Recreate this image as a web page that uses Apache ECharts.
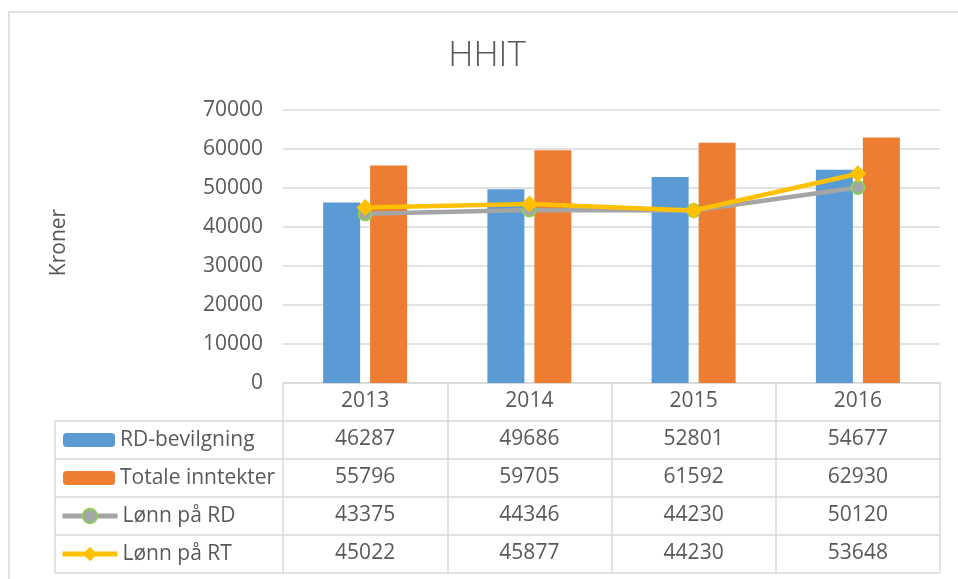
<!DOCTYPE html>
<html><head><meta charset="utf-8">
<script src="https://cdn.jsdelivr.net/npm/echarts@6/dist/echarts.min.js"></script>
<style>html,body{margin:0;padding:0;background:#fff}#c{width:958px;height:579px}</style>
</head><body><div id="c"></div>
<script>
// ---- data ----
const chartTitle = 'HHIT';
const yAxisName = 'Kroner';
const years = ['2013', '2014', '2015', '2016'];
const seriesNames = ['RD-bevilgning', 'Totale inntekter', 'Lønn på RD', 'Lønn på RT'];
const rdBevilgning = [46287, 49686, 52801, 54677];
const totaleInntekter = [55796, 59705, 61592, 62930];
const lonnPaRD = [43375, 44346, 44230, 50120];
const lonnPaRT = [45022, 45877, 44230, 53648];
const yMin = 0, yMax = 70000, yStep = 10000;

// ---- layout / style ----
const W = 958, H = 579;
const FONT = '"Open Sans", "Liberation Sans", sans-serif';
const TXT = '#595959';
const LINE = '#d9d9d9';
const FS = 21;
const gridL = 283, gridR = 940, gridT = 110, gridB = 383;
const rowH = 38;
const tableL = 55;
const colors = ['#5b9bd5', '#ed7d31', '#a5a5a5', '#ffc000'];
const allSeries = [rdBevilgning, totaleInntekter, lonnPaRD, lonnPaRT];

const chart = echarts.init(document.getElementById('c'), null, {renderer: 'canvas'});

// table rows as extra category axes
const xAxes = [{
  type: 'category', data: years, gridIndex: 0, position: 'bottom',
  axisLine: {show: true, lineStyle: {color: LINE, width: 1.5}},
  axisTick: {show: true, length: rowH * 5, lineStyle: {color: LINE, width: 1.5}},
  axisLabel: {margin: 8, fontSize: FS, color: TXT, fontFamily: FONT},
  splitLine: {show: false}
}];
allSeries.forEach((arr, k) => {
  xAxes.push({
    type: 'category', data: arr.map(v => String(v)), gridIndex: 0, position: 'bottom',
    offset: rowH * (k + 1),
    axisLine: {show: false}, axisTick: {show: false}, splitLine: {show: false},
    axisLabel: {margin: 8, fontSize: FS, color: TXT, fontFamily: FONT}
  });
});

const legends = seriesNames.map((n, k) => {
  const isBar = k < 2;
  const ih = isBar ? 14 : 18;
  return {
    data: [n], left: isBar ? 63 : 60,
    top: gridB + rowH * (k + 1) + rowH / 2 - 11,
    padding: 0, itemWidth: isBar ? 52 : 55, itemHeight: ih, itemGap: 0,
    selectedMode: false,
    lineStyle: {width: 5},
    textStyle: {fontSize: FS, color: TXT, fontFamily: FONT, lineHeight: 22}
  };
});

const graphics = [
  {type: 'rect', shape: {x: 9, y: 12, width: 1200, height: 800}, style: {fill: null, stroke: LINE, lineWidth: 1.5}, silent: true},
  {type: 'text', x: 487, y: 56,
   style: {text: chartTitle, fontSize: 35, fontWeight: 300, fontFamily: FONT, fill: TXT, align: 'center', verticalAlign: 'middle'}},
  {type: 'text', x: 59, y: (gridT + gridB) / 2 - 4, rotation: Math.PI / 2,
   style: {text: yAxisName, fontSize: FS, fontFamily: FONT, fill: TXT, align: 'center', verticalAlign: 'middle'}},
  {type: 'line', shape: {x1: tableL, y1: gridB + rowH, x2: tableL, y2: gridB + rowH * 5}, style: {stroke: LINE, lineWidth: 1.5}}
];
for (let k = 1; k <= 5; k++) {
  graphics.push({type: 'line', shape: {x1: tableL, y1: gridB + rowH * k, x2: gridR, y2: gridB + rowH * k}, style: {stroke: LINE, lineWidth: 1.5}});
}

chart.setOption({
  animation: false,
  backgroundColor: '#fff',
  legend: legends,
  grid: {left: gridL, right: W - gridR, top: gridT, bottom: H - gridB, containLabel: false},
  xAxis: xAxes,
  yAxis: {
    type: 'value', min: yMin, max: yMax, interval: yStep,
    axisLine: {show: false}, axisTick: {show: false},
    axisLabel: {margin: 20, fontSize: FS, color: TXT, fontFamily: FONT, formatter: v => String(v)},
    splitLine: {lineStyle: {color: LINE, width: 1.5}}
  },
  graphic: graphics,
  series: [
    {name: seriesNames[0], type: 'bar', data: rdBevilgning, barWidth: 37, barGap: '27%', itemStyle: {color: colors[0]}},
    {name: seriesNames[1], type: 'bar', data: totaleInntekter, barWidth: 37, barGap: '27%', itemStyle: {color: colors[1]}},
    {name: seriesNames[2], type: 'line', data: lonnPaRD, symbol: 'circle', symbolSize: 13,
      lineStyle: {color: colors[2], width: 4.5}, itemStyle: {color: colors[2], borderColor: '#8ccf5a', borderWidth: 2}, z: 3},
    {name: seriesNames[3], type: 'line', data: lonnPaRT, symbol: 'diamond', symbolSize: 17,
      lineStyle: {color: colors[3], width: 4.5}, itemStyle: {color: colors[3]}, z: 4}
  ]
});
</script></body></html>
